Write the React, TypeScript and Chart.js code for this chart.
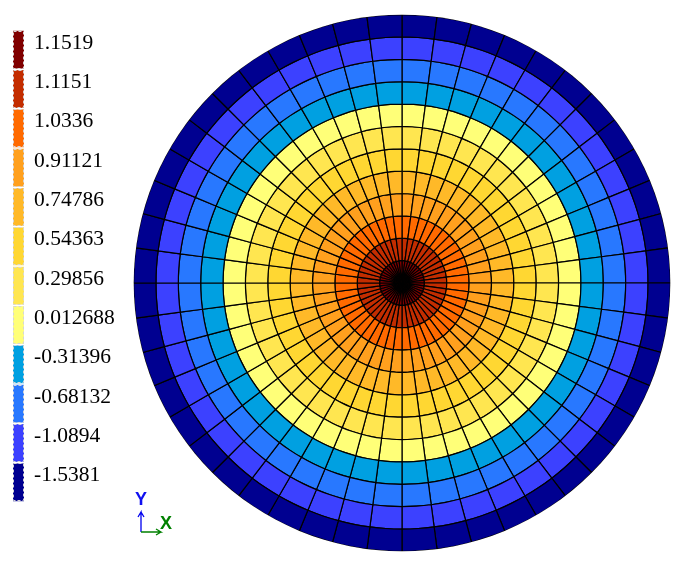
import React, { useEffect, useRef } from "react";
import { Chart, registerables } from "chart.js";

Chart.register(...registerables);

const contourLabels = ["1.1519", "1.1151", "1.0336", "0.91121", "0.74786", "0.54363", "0.29856", "0.012688", "-0.31396", "-0.68132", "-1.0894", "-1.5381"];
const contourColors = ["#800000", "#C32D00", "#FF6A00", "#FFA01E", "#FFB928", "#FFD732", "#FFE650", "#FFFF78", "#00A0E1", "#2878FF", "#3C41FF", "#000090"];
const sectorSizes = [
  7.5, 7.5, 7.5, 7.5, 7.5, 7.5, 7.5, 7.5, 7.5, 7.5, 7.5, 7.5,
  7.5, 7.5, 7.5, 7.5, 7.5, 7.5, 7.5, 7.5, 7.5, 7.5, 7.5, 7.5,
  7.5, 7.5, 7.5, 7.5, 7.5, 7.5, 7.5, 7.5, 7.5, 7.5, 7.5, 7.5,
  7.5, 7.5, 7.5, 7.5, 7.5, 7.5, 7.5, 7.5, 7.5, 7.5, 7.5, 7.5,
];
const swatchWidths = [1, 1, 1, 1, 1, 1, 1, 1, 1, 1, 1, 1];
const axisX = [{ x: 0, y: 0 }, { x: 1, y: 0 }, { x: 0.75, y: 0.15 }, { x: 1, y: 0 }, { x: 0.75, y: -0.15 }];
const axisY = [{ x: 0, y: 0 }, { x: 0, y: 1 }, { x: -0.15, y: 0.75 }, { x: 0, y: 1 }, { x: 0.15, y: 0.75 }];

const dashedSwatches = {
  id: "dashedSwatches",
  afterDatasetsDraw(chart: any) {
    const { ctx } = chart;
    ctx.save();
    ctx.strokeStyle = "#d6d6d6";
    ctx.lineWidth = 1;
    ctx.setLineDash([3, 2]);
    chart.getDatasetMeta(0).data.forEach((bar: any) => {
      const p = bar.getProps(["x", "y", "base", "height"], true);
      ctx.strokeRect(Math.round(p.base) + 0.5, Math.round(p.y - p.height / 2) + 0.5, Math.round(p.x - p.base) - 1, Math.round(p.height) - 1);
    });
    ctx.restore();
  },
};

const triadLabels = {
  id: "triadLabels",
  afterDatasetsDraw(chart: any) {
    const { ctx, scales } = chart;
    ctx.save();
    ctx.font = "bold 18px 'Liberation Sans'";
    ctx.textAlign = "center";
    ctx.textBaseline = "middle";
    ctx.fillStyle = "#1010F0";
    ctx.fillText("Y", scales.x.getPixelForValue(0), scales.y.getPixelForValue(1.6));
    ctx.fillStyle = "#008000";
    ctx.fillText("X", scales.x.getPixelForValue(1.25), scales.y.getPixelForValue(0.38));
    ctx.restore();
  },
};

const box = (left: number, top: number, w: number, h: number): React.CSSProperties => ({
  position: "absolute",
  left,
  top,
  width: w,
  height: h,
  display: "block",
});

export default function App() {
  const discRef = useRef<HTMLCanvasElement>(null);
  const legendRef = useRef<HTMLCanvasElement>(null);
  const triadRef = useRef<HTMLCanvasElement>(null);

  useEffect(() => {
    const ringsOuterFirst = contourLabels.map((label, i) => ({ label, color: contourColors[i] })).reverse();
    const disc = new Chart(discRef.current!, {
      type: "doughnut",
      data: {
        labels: sectorSizes.map((_, i) => String(i + 1)),
        datasets: ringsOuterFirst.map((r) => ({
          label: r.label,
          data: sectorSizes,
          backgroundColor: r.color,
          borderColor: "#000000",
          borderWidth: 1.2,
          borderAlign: "center" as const,
          hoverOffset: 0,
        })),
      },
      options: {
        responsive: false,
        animation: false,
        cutout: 0,
        layout: { padding: 1 },
        plugins: { legend: { display: false }, tooltip: { enabled: false } },
      },
    });

    const legend = new Chart(legendRef.current!, {
      type: "bar",
      data: {
        labels: contourLabels,
        datasets: [{
          data: swatchWidths,
          backgroundColor: contourColors,
          borderWidth: 0,
          barPercentage: 1,
          categoryPercentage: 0.96,
        }],
      },
      options: {
        indexAxis: "y",
        responsive: false,
        animation: false,
        layout: { padding: { left: 13, top: 30, bottom: 18, right: 0 } },
        plugins: { legend: { display: false }, tooltip: { enabled: false } },
        scales: {
          x: { display: false, min: 0, max: 1 },
          y: {
            position: "right",
            grid: { display: false, drawTicks: false },
            border: { display: false },
            afterFit: (scale: any) => {
              scale.width = 106;
              scale.paddingTop = 0;
              scale.paddingBottom = 0;
            },
            ticks: {
              autoSkip: false,
              padding: 10,
              labelOffset: -6.5,
              crossAlign: "near",
              color: "#000000",
              font: { family: "'Liberation Serif'", size: 21.5 },
            },
          },
        },
      },
      plugins: [dashedSwatches],
    });

    const triad = new Chart(triadRef.current!, {
      type: "scatter",
      data: {
        datasets: [
          { label: "X", data: axisX, showLine: true, borderColor: "#008000", borderWidth: 1.3, pointRadius: 0 },
          { label: "Y", data: axisY, showLine: true, borderColor: "#0000F0", borderWidth: 1.3, pointRadius: 0 },
        ],
      },
      options: {
        responsive: false,
        animation: false,
        plugins: { legend: { display: false }, tooltip: { enabled: false } },
        scales: {
          x: { display: false, min: -0.8, max: 2.2 },
          y: { display: false, min: -0.4, max: 2.1 },
        },
      },
      plugins: [triadLabels],
    });

    return () => {
      disc.destroy();
      legend.destroy();
      triad.destroy();
    };
  }, []);

  return (
    <div style={{ position: "fixed", inset: 0, background: "#ffffff", overflow: "hidden" }}>
      <canvas ref={discRef} width={540} height={540} style={{ ...box(132, 13, 540, 540), clipPath: "circle(268.3px at 270px 270px)" }} />
      <canvas ref={legendRef} width={130} height={520} style={box(0, 0, 130, 520)} />
      <canvas ref={triadRef} width={60} height={50} style={box(125, 490, 60, 50)} />
    </div>
  );
}
